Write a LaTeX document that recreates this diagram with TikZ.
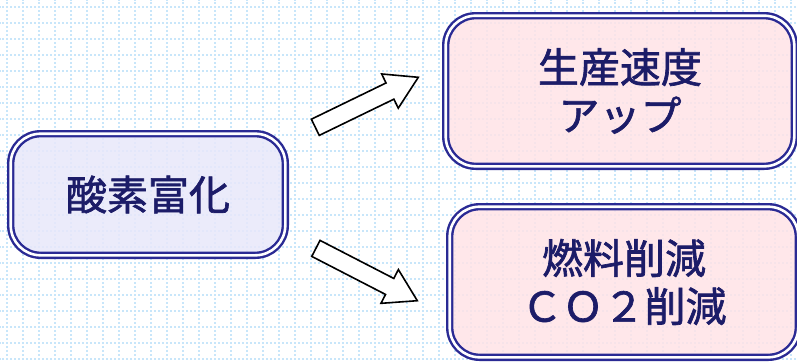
\documentclass[tikz,border=0pt]{standalone}
\usepackage{fontspec}
\newfontfamily\jpfont[FakeBold=1.6]{Noto Sans CJK JP}
\usetikzlibrary{calc}
\definecolor{gridblue}{RGB}{200,230,250}
\definecolor{navyline}{RGB}{42,42,148}
\definecolor{navytext}{RGB}{28,28,104}
\definecolor{lavfill}{RGB}{232,232,250}
\definecolor{pinkfill}{RGB}{255,227,231}

\begin{document}
\begin{tikzpicture}[x=1pt,y=-1pt]
\tikzstyle{every node}=[font=\jpfont\fontsize{41}{48}\selectfont, text=navytext]
\tikzstyle{box}=[draw=navyline, line width=2.4pt, double=white, double distance=2.6pt, rounded corners=30pt, fill opacity=0.85, text opacity=1, inner sep=0pt, align=center]
\tikzstyle{gridline}=[gridblue, line width=1.8pt, dash pattern=on 1.8pt off 2.2pt, dash phase=1.6pt]
\tikzstyle{blockarrow}=[draw=black, line width=1.6pt, fill=white]
\useasboundingbox (0,0) rectangle (797,362);
\fill[white] (0,0) rectangle (797,362);
% grid paper
\foreach \x in {6.7,22.7,...,797} \draw[gridline] (\x,0) -- (\x,362);
\foreach \y in {7.3,23.3,...,362} \draw[gridline] (0,\y) -- (797,\y);
% boxes
\node (b1) [box, fill=lavfill, minimum width=274.6pt, minimum height=121.6pt] at (148,194.5) {酸素富化};
\node (b2) [box, fill=pinkfill, minimum width=348.6pt, minimum height=150.6pt] at (620,91) {生産速度\\アップ};
\node (b3) [box, fill=pinkfill, minimum width=348.6pt, minimum height=150.6pt] at (624,282) {燃料削減\\ＣＯ２削減};
% block arrows
\coordinate (a1) at (315.3,127.3);
\coordinate (a2) at (418.3,77.3);
\coordinate (a3) at (315.9,248.4);
\coordinate (a4) at (417.3,300.7);
\foreach \s/\e in {a1/a2,a3/a4}{
  \coordinate (h) at ($(\s)!83pt!(\e)$);
  \draw[blockarrow] ($(\s)!9pt!90:(\e)$) -- ($(h)!9pt!90:(\e)$) -- ($(h)!19pt!90:(\e)$) -- (\e)
    -- ($(h)!19pt!-90:(\e)$) -- ($(h)!9pt!-90:(\e)$) -- ($(\s)!9pt!-90:(\e)$) -- cycle;
}
\end{tikzpicture}
\end{document}
